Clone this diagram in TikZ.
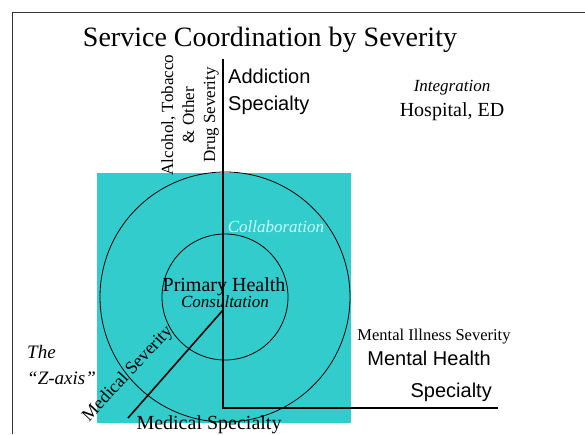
\documentclass[tikz,border=0pt]{standalone}
\usepackage{fontspec}
\setmainfont{Liberation Serif}
\setsansfont{Liberation Sans}
\definecolor{teal}{RGB}{51,204,204}
\definecolor{paleteal}{RGB}{200,255,255}

\begin{document}
\begin{tikzpicture}[x=1pt,y=-1pt,
    axis/.style={line width=1.6pt},
    ring/.style={line width=0.8pt},
    lbl/.style={inner sep=0pt,anchor=base},
    every node/.style={inner sep=0pt}]
    \useasboundingbox (0,0) rectangle (585,434);
    % frame and shaded region
    \draw[line width=0.8pt,black!80] (12,434) -- (12,12) -- (585,12);
    \fill[teal] (97,173) rectangle (351,423);
    \coordinate (ctr) at (225,297);
    \draw[ring] (ctr) circle(125);
    \draw[ring] (ctr) circle(63);
    % axes
    \coordinate (top) at (223,59);
    \coordinate (corner) at (223,408);
    \coordinate (right) at (498,408);
    \coordinate (origin) at (223,310);
    \coordinate (zend) at (128,418);
    \draw[axis] (top) -- (corner) -- (right);
    \draw[axis] (origin) -- (zend);
    % labels
    \node[lbl,font=\fontsize{28}{30}\selectfont] (title) at (270,46) {Service Coordination by Severity};
    \node[rotate=90,align=center,font=\fontsize{17}{21}\selectfont] (drug) at (190,115)
        {Alcohol, Tobacco\\ \& Other\\ Drug Severity};
    \node[lbl,anchor=base west,font=\sffamily\fontsize{20}{22}\selectfont] (addict) at (228,83) {Addiction};
    \node[lbl,anchor=base west,font=\sffamily\fontsize{20}{22}\selectfont] (addspec) at (228,110) {Specialty};
    \node[lbl,font=\itshape\fontsize{17}{19}\selectfont] (integ) at (452,91) {Integration};
    \node[lbl,font=\fontsize{20}{22}\selectfont] (hosp) at (452,116) {Hospital, ED};
    \node[lbl,text=paleteal,font=\itshape\fontsize{17}{19}\selectfont] (collab) at (276,232) {Collaboration};
    \node[lbl,font=\fontsize{20}{22}\selectfont] (primary) at (224,291) {Primary Health};
    \node[lbl,font=\itshape\fontsize{17}{19}\selectfont] (consult) at (225,307) {Consultation};
    \node[lbl,font=\fontsize{16.5}{18}\selectfont] (mis) at (434,340) {Mental Illness Severity};
    \node[lbl,anchor=base east,font=\sffamily\fontsize{20}{22}\selectfont] (mh) at (491,365) {Mental Health};
    \node[lbl,anchor=base east,font=\sffamily\fontsize{20}{22}\selectfont] (mhspec) at (492,397) {Specialty};
    \node[lbl,anchor=base west,font=\itshape\fontsize{19}{21}\selectfont] (the) at (27,358) {The};
    \node[lbl,anchor=base west,font=\itshape\fontsize{19}{21}\selectfont] (zaxis) at (27,384) {``Z-axis''};
    \node[rotate=47,font=\fontsize{18}{20}\selectfont] (medsev) at (128,374) {Medical Severity};
    \node[lbl,font=\fontsize{20}{22}\selectfont] (medspec) at (209,429) {Medical Specialty};
\end{tikzpicture}
\end{document}
